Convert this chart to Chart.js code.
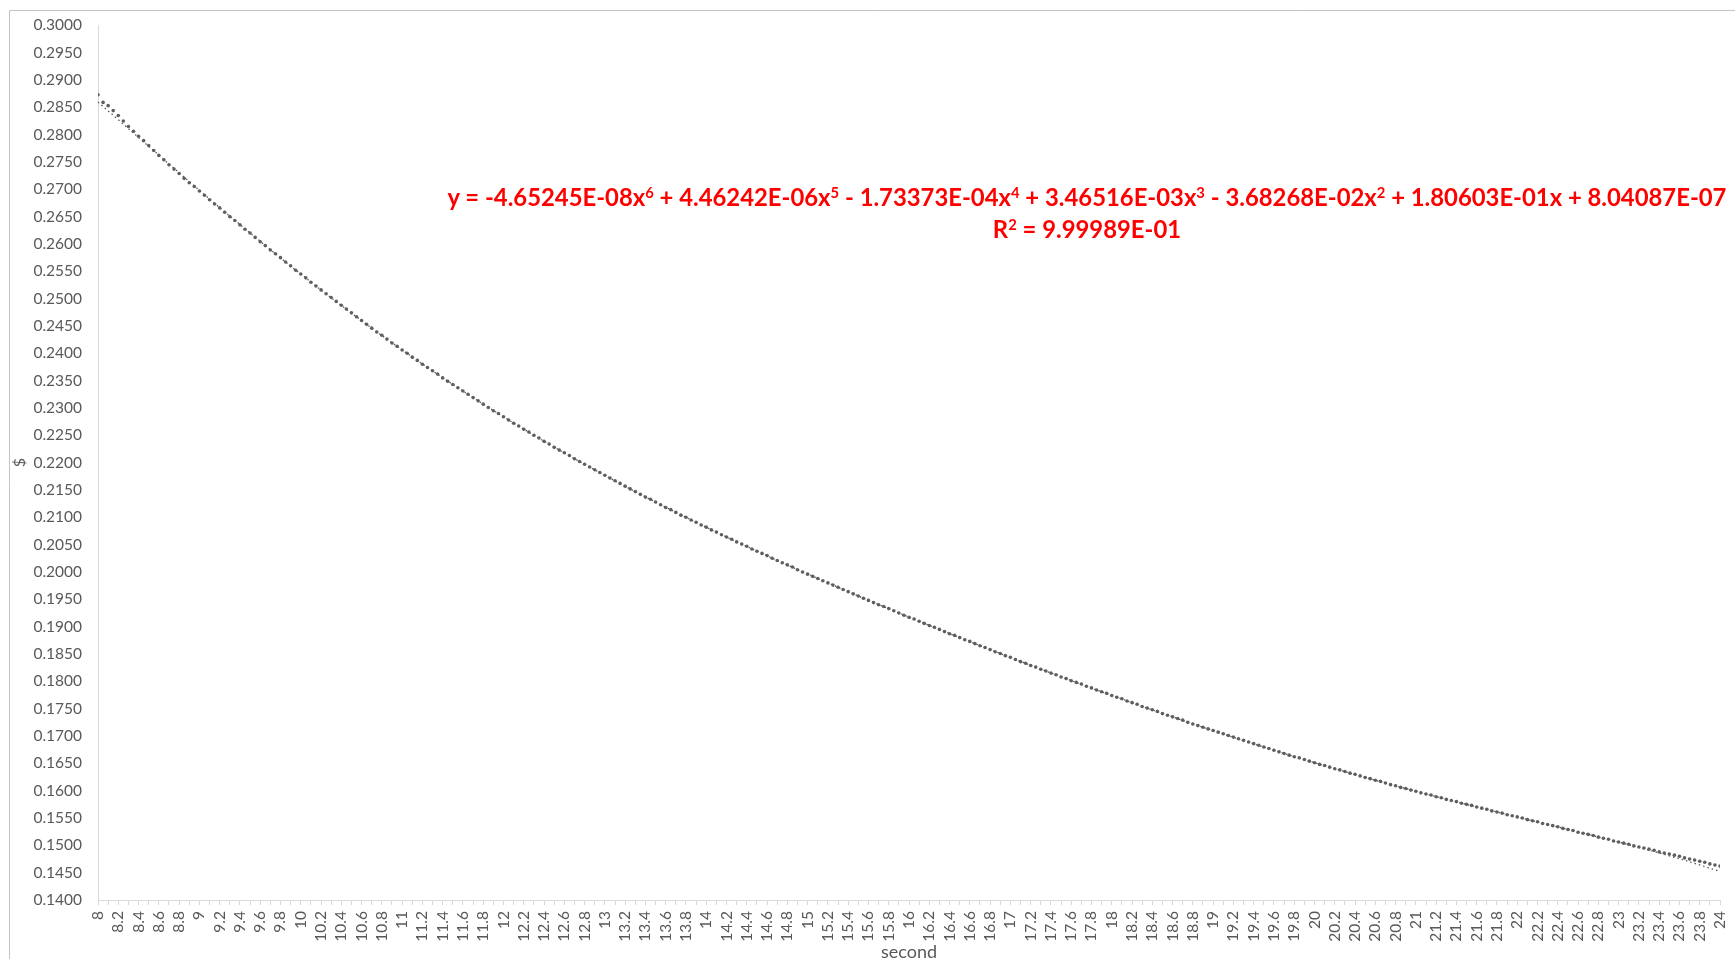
<!DOCTYPE html>
<html>
<head>
<meta charset="utf-8">
<title>$ per second</title>
<script src="https://cdn.jsdelivr.net/npm/chart.js@4/dist/chart.umd.min.js"></script>
<style>
  html, body { margin: 0; padding: 0; background: #ffffff; }
  #wrap { position: relative; width: 1735px; height: 959px; overflow: hidden; }
  #chart { position: absolute; left: 0; top: 0; }
  #eq {
    position: absolute; left: 1087px; top: 181px; transform: translateX(-50%);
    text-align: center; white-space: nowrap; color: #ff0000;
    font-family: Lato, "Open Sans", sans-serif; font-weight: 700; font-size: 23.85px; line-height: 32px;
  }
  #eq sup { font-size: 62%; line-height: 0; vertical-align: 0.55em; }
</style>
</head>
<body>
<div id="wrap">
  <canvas id="chart" width="1735" height="959"></canvas>
  <div id="eq"></div>
</div>
<script>
// time in seconds
const seconds = [
  8, 8.05, 8.1, 8.15, 8.2, 8.25, 8.3, 8.35, 8.4, 8.45, 8.5, 8.55, 8.6, 8.65, 8.7, 8.75, 8.8, 8.85, 8.9, 8.95,
  9, 9.05, 9.1, 9.15, 9.2, 9.25, 9.3, 9.35, 9.4, 9.45, 9.5, 9.55, 9.6, 9.65, 9.7, 9.75, 9.8, 9.85, 9.9, 9.95,
  10, 10.05, 10.1, 10.15, 10.2, 10.25, 10.3, 10.35, 10.4, 10.45, 10.5, 10.55, 10.6, 10.65, 10.7, 10.75, 10.8, 10.85, 10.9, 10.95,
  11, 11.05, 11.1, 11.15, 11.2, 11.25, 11.3, 11.35, 11.4, 11.45, 11.5, 11.55, 11.6, 11.65, 11.7, 11.75, 11.8, 11.85, 11.9, 11.95,
  12, 12.05, 12.1, 12.15, 12.2, 12.25, 12.3, 12.35, 12.4, 12.45, 12.5, 12.55, 12.6, 12.65, 12.7, 12.75, 12.8, 12.85, 12.9, 12.95,
  13, 13.05, 13.1, 13.15, 13.2, 13.25, 13.3, 13.35, 13.4, 13.45, 13.5, 13.55, 13.6, 13.65, 13.7, 13.75, 13.8, 13.85, 13.9, 13.95,
  14, 14.05, 14.1, 14.15, 14.2, 14.25, 14.3, 14.35, 14.4, 14.45, 14.5, 14.55, 14.6, 14.65, 14.7, 14.75, 14.8, 14.85, 14.9, 14.95,
  15, 15.05, 15.1, 15.15, 15.2, 15.25, 15.3, 15.35, 15.4, 15.45, 15.5, 15.55, 15.6, 15.65, 15.7, 15.75, 15.8, 15.85, 15.9, 15.95,
  16, 16.05, 16.1, 16.15, 16.2, 16.25, 16.3, 16.35, 16.4, 16.45, 16.5, 16.55, 16.6, 16.65, 16.7, 16.75, 16.8, 16.85, 16.9, 16.95,
  17, 17.05, 17.1, 17.15, 17.2, 17.25, 17.3, 17.35, 17.4, 17.45, 17.5, 17.55, 17.6, 17.65, 17.7, 17.75, 17.8, 17.85, 17.9, 17.95,
  18, 18.05, 18.1, 18.15, 18.2, 18.25, 18.3, 18.35, 18.4, 18.45, 18.5, 18.55, 18.6, 18.65, 18.7, 18.75, 18.8, 18.85, 18.9, 18.95,
  19, 19.05, 19.1, 19.15, 19.2, 19.25, 19.3, 19.35, 19.4, 19.45, 19.5, 19.55, 19.6, 19.65, 19.7, 19.75, 19.8, 19.85, 19.9, 19.95,
  20, 20.05, 20.1, 20.15, 20.2, 20.25, 20.3, 20.35, 20.4, 20.45, 20.5, 20.55, 20.6, 20.65, 20.7, 20.75, 20.8, 20.85, 20.9, 20.95,
  21, 21.05, 21.1, 21.15, 21.2, 21.25, 21.3, 21.35, 21.4, 21.45, 21.5, 21.55, 21.6, 21.65, 21.7, 21.75, 21.8, 21.85, 21.9, 21.95,
  22, 22.05, 22.1, 22.15, 22.2, 22.25, 22.3, 22.35, 22.4, 22.45, 22.5, 22.55, 22.6, 22.65, 22.7, 22.75, 22.8, 22.85, 22.9, 22.95,
  23, 23.05, 23.1, 23.15, 23.2, 23.25, 23.3, 23.35, 23.4, 23.45, 23.5, 23.55, 23.6, 23.65, 23.7, 23.75, 23.8, 23.85, 23.9, 23.95,
  24
];

// price in $ at each time
const price = [
  0.2873, 0.2859, 0.2853, 0.2844, 0.2835, 0.2825, 0.2815, 0.2806, 0.2797, 0.2789, 0.2780, 0.2771, 0.2762, 0.2754, 0.2745, 0.2737, 0.2729, 0.2720, 0.2712, 0.2705,
  0.2697, 0.2689, 0.2681, 0.2673, 0.2666, 0.2658, 0.2650, 0.2643, 0.2635, 0.2627, 0.2620, 0.2612, 0.2604, 0.2597, 0.2589, 0.2582, 0.2575, 0.2567, 0.2560, 0.2552,
  0.2545, 0.2538, 0.2530, 0.2523, 0.2516, 0.2509, 0.2502, 0.2495, 0.2488, 0.2481, 0.2474, 0.2467, 0.2460, 0.2453, 0.2446, 0.2439, 0.2433, 0.2426, 0.2419, 0.2413,
  0.2406, 0.2400, 0.2393, 0.2387, 0.2380, 0.2374, 0.2368, 0.2362, 0.2355, 0.2349, 0.2343, 0.2337, 0.2331, 0.2325, 0.2319, 0.2313, 0.2307, 0.2301, 0.2295, 0.2290,
  0.2284, 0.2278, 0.2272, 0.2267, 0.2261, 0.2256, 0.2250, 0.2245, 0.2239, 0.2234, 0.2228, 0.2223, 0.2218, 0.2213, 0.2207, 0.2202, 0.2197, 0.2192, 0.2187, 0.2182,
  0.2177, 0.2172, 0.2167, 0.2162, 0.2157, 0.2152, 0.2147, 0.2142, 0.2137, 0.2133, 0.2128, 0.2123, 0.2118, 0.2114, 0.2109, 0.2104, 0.2100, 0.2095, 0.2091, 0.2086,
  0.2082, 0.2077, 0.2073, 0.2068, 0.2064, 0.2060, 0.2055, 0.2051, 0.2047, 0.2042, 0.2038, 0.2034, 0.2030, 0.2025, 0.2021, 0.2017, 0.2013, 0.2009, 0.2004, 0.2000,
  0.1996, 0.1992, 0.1988, 0.1984, 0.1980, 0.1976, 0.1972, 0.1968, 0.1964, 0.1960, 0.1956, 0.1952, 0.1948, 0.1944, 0.1940, 0.1937, 0.1933, 0.1929, 0.1925, 0.1921,
  0.1917, 0.1914, 0.1910, 0.1906, 0.1902, 0.1899, 0.1895, 0.1891, 0.1887, 0.1884, 0.1880, 0.1876, 0.1873, 0.1869, 0.1865, 0.1862, 0.1858, 0.1854, 0.1851, 0.1847,
  0.1844, 0.1840, 0.1836, 0.1833, 0.1829, 0.1826, 0.1822, 0.1819, 0.1815, 0.1812, 0.1808, 0.1805, 0.1801, 0.1798, 0.1795, 0.1791, 0.1788, 0.1784, 0.1781, 0.1778,
  0.1774, 0.1771, 0.1768, 0.1764, 0.1761, 0.1758, 0.1754, 0.1751, 0.1748, 0.1745, 0.1741, 0.1738, 0.1735, 0.1732, 0.1729, 0.1725, 0.1722, 0.1719, 0.1716, 0.1713,
  0.1710, 0.1707, 0.1704, 0.1701, 0.1698, 0.1695, 0.1692, 0.1689, 0.1686, 0.1683, 0.1680, 0.1677, 0.1674, 0.1671, 0.1668, 0.1665, 0.1662, 0.1660, 0.1657, 0.1654,
  0.1651, 0.1648, 0.1646, 0.1643, 0.1640, 0.1638, 0.1635, 0.1632, 0.1630, 0.1627, 0.1624, 0.1622, 0.1619, 0.1617, 0.1614, 0.1611, 0.1609, 0.1606, 0.1604, 0.1601,
  0.1599, 0.1596, 0.1594, 0.1592, 0.1589, 0.1587, 0.1584, 0.1582, 0.1580, 0.1577, 0.1575, 0.1573, 0.1570, 0.1568, 0.1566, 0.1563, 0.1561, 0.1559, 0.1556, 0.1554,
  0.1552, 0.1550, 0.1547, 0.1545, 0.1543, 0.1540, 0.1538, 0.1536, 0.1534, 0.1531, 0.1529, 0.1527, 0.1524, 0.1522, 0.1520, 0.1518, 0.1515, 0.1513, 0.1511, 0.1508,
  0.1506, 0.1504, 0.1502, 0.1499, 0.1497, 0.1495, 0.1493, 0.1491, 0.1488, 0.1486, 0.1484, 0.1482, 0.1480, 0.1477, 0.1475, 0.1473, 0.1471, 0.1469, 0.1466, 0.1464,
  0.1462
];

// 6th-order polynomial trendline, highest power first, as printed on the chart
const trendTerms = ['-4.65245E-08', '4.46242E-06', '-1.73373E-04', '3.46516E-03', '-3.68268E-02', '1.80603E-01', '8.04087E-07'];
const trendR2 = '9.99989E-01';

// axis range and tick steps
const xRange = [8, 24];
const yRange = [0.14, 0.30];
const xTickStep = 0.1;   // every second tick carries a label (0.2 apart)
const yTickStep = 0.005;

const trendCoef = trendTerms.map(parseFloat);
function trendAt(x) {
  return trendCoef.reduce((acc, c) => acc * x + c, 0);
}

// equation label, built from the same coefficients the trendline uses
(function buildEquation() {
  const deg = trendTerms.length - 1;
  let html = 'y = ';
  trendTerms.forEach((t, i) => {
    const p = deg - i;
    const neg = t.startsWith('-');
    const mag = neg ? t.slice(1) : t;
    if (i === 0) html += t;
    else html += (neg ? ' - ' : ' + ') + mag;
    if (p > 1) html += 'x<sup>' + p + '</sup>';
    else if (p === 1) html += 'x';
  });
  html += '<br>R<sup>2</sup> = ' + trendR2;
  document.getElementById('eq').innerHTML = html;
})();

const points = seconds.map((x, i) => ({ x: x, y: price[i] }));
const trend = seconds.map(x => ({ x: x, y: trendAt(x) }));

// light grey frame around the chart object
const framePlugin = {
  id: 'frame',
  beforeDraw(chart) {
    const c = chart.ctx;
    c.save();
    c.strokeStyle = '#c4c4c4';
    c.lineWidth = 1;
    c.beginPath();
    c.moveTo(9.5, chart.height);
    c.lineTo(9.5, 10.5);
    c.lineTo(chart.width, 10.5);
    c.stroke();
    c.restore();
  }
};

const labelFont = { family: 'Lato', size: 15.5 };
const axisGrey = '#595959';

new Chart(document.getElementById('chart'), {
  type: 'scatter',
  data: {
    datasets: [
      {
        label: 'price',
        data: points,
        pointRadius: 1.8,
        pointHoverRadius: 1.8,
        pointBorderWidth: 0,
        pointBackgroundColor: '#5e5e5e',
        showLine: false
      },
      {
        label: 'Poly. (price)',
        data: trend,
        showLine: true,
        pointRadius: 0,
        borderColor: '#595959',
        borderWidth: 1.3,
        borderDash: [1.5, 3],
        tension: 0
      }
    ]
  },
  options: {
    responsive: false,
    animation: false,
    events: [],
    layout: { padding: { left: 0, top: 23, right: 15, bottom: 0 } },
    plugins: {
      legend: { display: false },
      tooltip: { enabled: false }
    },
    scales: {
      x: {
        type: 'linear',
        min: xRange[0],
        max: xRange[1],
        afterFit(s) {
          s.height = 59;
          s.paddingLeft = 0;
          s.paddingRight = 0;
        },
        ticks: {
          stepSize: xTickStep,
          autoSkip: false,
          minRotation: 90,
          maxRotation: 90,
          padding: 6,
          color: axisGrey,
          font: labelFont,
          callback: (v, i) => (i % 2 === 0 ? String(+Number(v).toFixed(1)) : '')
        },
        grid: { display: true, drawOnChartArea: false, drawTicks: true, tickLength: 5, color: '#d9d9d9' },
        border: { display: true, color: '#d9d9d9' },
        title: { display: true, text: 'second', color: axisGrey, font: { family: 'Lato', size: 18, lineHeight: 0.8 }, padding: 0 }
      },
      y: {
        type: 'linear',
        min: yRange[0],
        max: yRange[1],
        afterFit(s) { s.width = 98; },
        ticks: {
          stepSize: yTickStep,
          autoSkip: false,
          padding: 16,
          color: axisGrey,
          font: labelFont,
          callback: v => Number(v).toFixed(4)
        },
        grid: { display: false, drawTicks: false },
        border: { display: true, color: '#d9d9d9' },
        title: { display: true, text: '$', color: axisGrey, font: { family: 'Lato', size: 16 }, padding: { top: 10, bottom: 0 } }
      }
    }
  },
  plugins: [framePlugin]
});
</script>
</body>
</html>
